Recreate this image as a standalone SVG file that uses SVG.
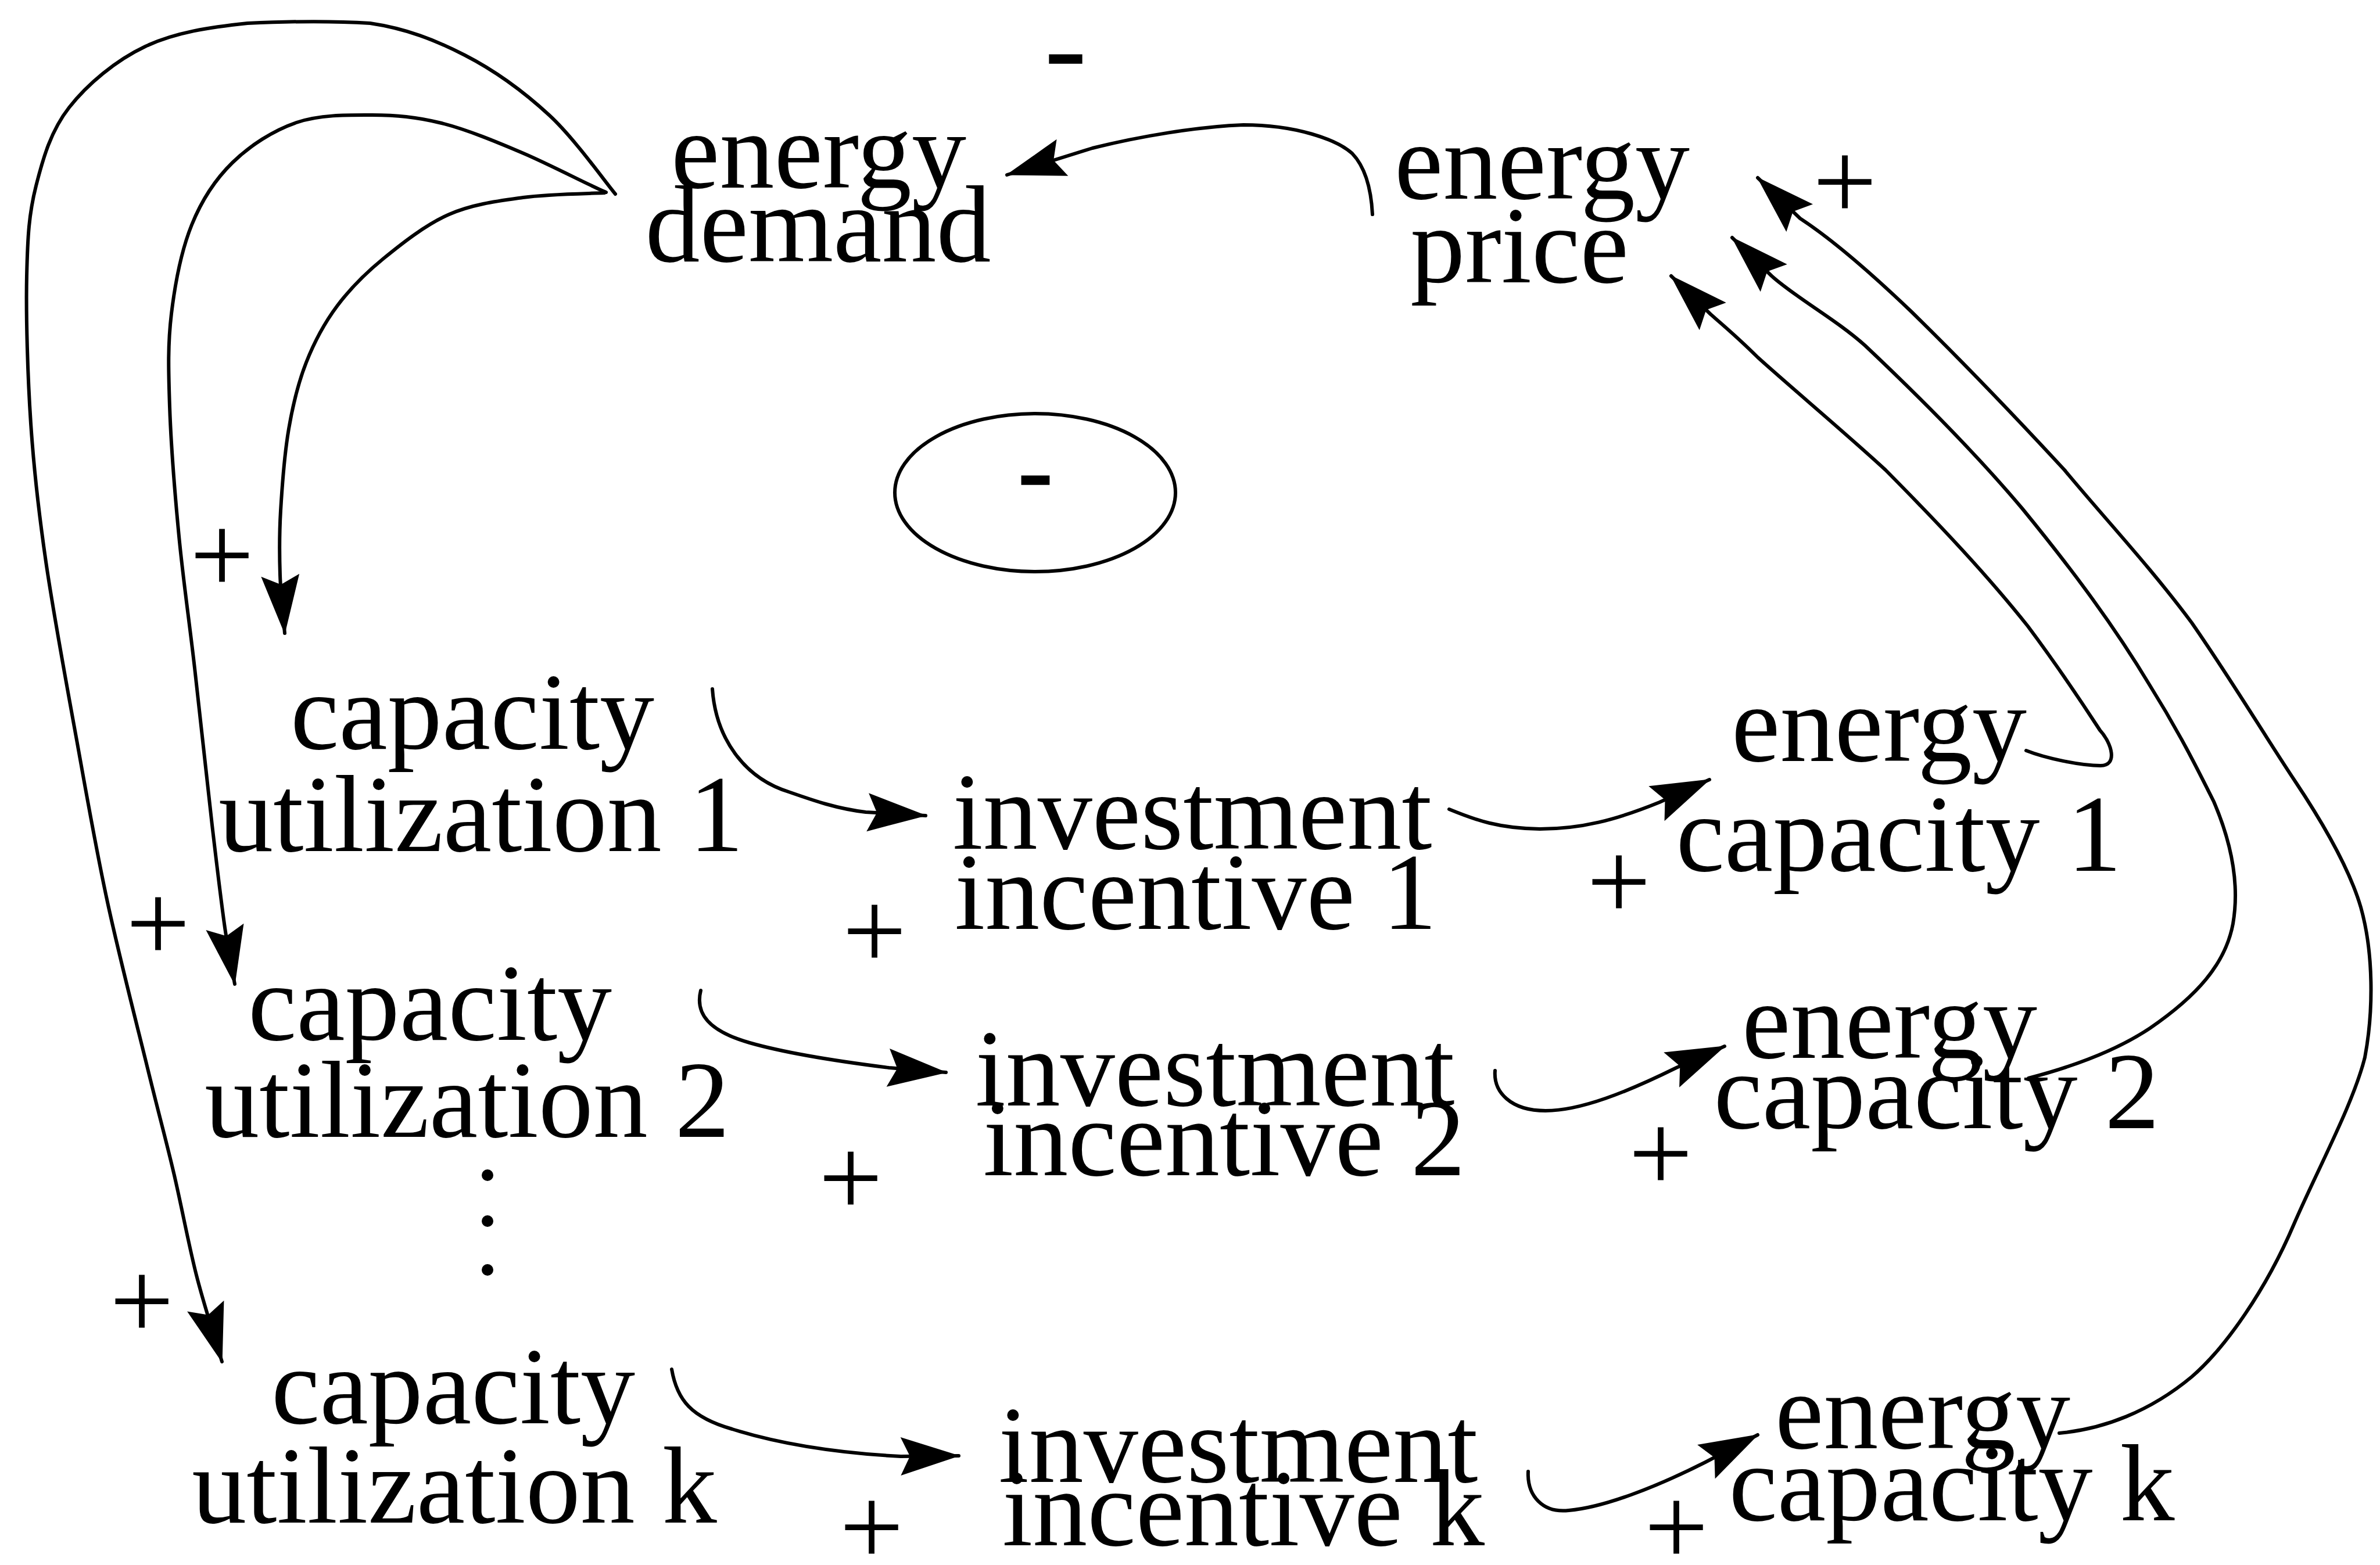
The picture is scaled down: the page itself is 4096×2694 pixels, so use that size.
<svg xmlns="http://www.w3.org/2000/svg" width="4096" height="2694" viewBox="0 0 4096 2694">
<defs>
<style>
.t{font-family:"Liberation Serif","Times New Roman",serif;font-size:188px;fill:#000;text-anchor:middle}
.s{font-family:"Liberation Serif","Times New Roman",serif;font-size:196px;fill:#000;text-anchor:middle}
.n{font-family:"Liberation Serif","Times New Roman",serif;font-size:150px;font-weight:bold;fill:#000;stroke:#000;stroke-width:3.5;text-anchor:middle}
.c{fill:none;stroke:#000;stroke-width:6;stroke-linecap:round;stroke-linejoin:round}
.a{marker-end:url(#ah)}
</style>
<marker id="ah" markerUnits="userSpaceOnUse" markerWidth="110" markerHeight="76" viewBox="-105 -38 110 76" refX="0" refY="0" orient="auto">
<path d="M2,0 L-100,-33 L-84,0 L-100,33 Z" fill="#000"/>
</marker>
</defs>
<rect width="4096" height="2694" fill="#fff"/>
<g id="connectors">
<path id="demand-to-cuk" class="c a" d="M1059,334 C1040,311.3 988.2,237.8 945,198 C901.8,158.2 851.3,121.3 800,95 C748.7,68.7 699.3,49.2 637,40 C574.7,36 490.5,37 426,40 C361.5,46.7 301.2,55.8 250,80 C198.8,104.2 150.3,145 119,185 C87.7,225 74.2,271.7 62,320 C49.8,368.3 47.5,406.8 46,475 C44.5,543.2 47.5,647 53,729 C58.5,811 65.8,876.2 79,967 C92.2,1057.8 114.3,1176.3 132,1274 C149.7,1371.7 164.5,1458.2 185,1553 C205.5,1647.8 236,1765.3 255,1843 C274,1920.7 285.2,1960.3 299,2019 C312.8,2077.7 324.2,2140.8 338,2195 C351.8,2249.2 374.7,2319.2 382,2344"/>
<path id="demand-to-cu2" class="c a" d="M1043,331 C1017.7,320.7 947.8,284 901,264 C854.2,244 803.5,223 760,212 C716.5,201 681.7,198.2 640,198 C598.3,197.8 550,197.3 510,211 C470,224.7 430,250.7 400,280 C370,309.3 347.5,343.7 330,387 C312.5,430.3 301.3,487.8 295,540 C288.7,592.2 289.8,636.2 292,700 C294.2,763.8 300.8,848 308,923 C315.2,998 325.5,1067.2 335,1150 C344.5,1232.8 356.3,1345.5 365,1420 C373.7,1494.5 380.5,1551.3 387,1597 C393.5,1642.7 401.2,1677.8 404,1694"/>
<path id="demand-to-cu1" class="c a" d="M1040,332 C1014.2,333.3 944,333.8 900,340 C856,346.2 813,351.5 773,369 C733,386.5 692.2,418.7 660,445 C627.8,471.3 602.2,497.2 580,527 C557.8,556.8 540.8,588.8 527,624 C513.2,659.2 504.3,695.5 497,738 C489.7,780.5 485.5,837 483,879 C480.5,921 480.8,954.8 482,990 C483.2,1025.2 488.7,1073.3 490,1090"/>
<path id="price-to-demand" class="c a" d="M2362,369 C2360,330 2352,290 2327,264 C2300,240 2230,215 2140,215 C2060,218 1960,235 1880,255 L1733,301"/>
<path id="cu1-to-ii1" class="c a" d="M1226,1186 C1232,1270 1280,1340 1360,1364 C1400,1378 1440,1392 1490,1398 L1593,1404"/>
<path id="cu2-to-ii2" class="c a" d="M1206,1705 C1196,1745 1220,1775 1290,1795 C1360,1815 1450,1828 1530,1838 L1628,1846"/>
<path id="cuk-to-iik" class="c a" d="M1156,2357 C1165,2410 1190,2440 1260,2460 C1330,2482 1420,2500 1550,2507 L1650,2506"/>
<path id="ii1-to-ec1" class="c a" d="M2494,1393 C2540,1412 2580,1426 2650,1427 C2720,1427 2780,1412 2856,1381 L2942,1342"/>
<path id="ii2-to-ec2" class="c a" d="M2573,1843 C2570,1880 2600,1912 2660,1912 C2720,1912 2800,1880 2885,1838 L2968,1801"/>
<path id="iik-to-eck" class="c a" d="M2630,2533 C2628,2575 2655,2605 2700,2600 C2760,2595 2850,2560 2935,2517 L3025,2470"/>
<path id="ec1-to-price" class="c a" d="M3487,1292 C3520,1305 3580,1318 3615,1318 C3645,1318 3635,1280 3614,1257 C3590,1220 3540,1145 3490,1078 C3420,990 3340,905 3245,809 C3170,740 3080,665 3025,615 C2990,580 2960,555 2944,541 L2876,475"/>
<path id="ec2-to-price" class="c a" d="M3491,1856 C3560,1838 3640,1810 3700,1770 C3780,1715 3830,1660 3843,1590 C3855,1520 3840,1450 3810,1380 C3780,1320 3750,1260 3700,1180 C3640,1080 3570,985 3480,875 C3400,780 3300,680 3210,595 C3160,550 3090,512 3049,475 L2981,409"/>
<path id="eck-to-price" class="c a" d="M3544,2467 C3620,2460 3700,2430 3772,2370 C3830,2320 3900,2220 3948,2107 C3990,2010 4050,1900 4070,1820 C4085,1740 4085,1640 4063,1562 C4045,1500 4000,1420 3950,1345 C3900,1270 3840,1170 3772,1072 C3700,975 3620,890 3553,809 C3480,730 3380,625 3289,536 C3220,470 3150,410 3098,376 L3025,306"/>
</g>
<g id="loop-marker">
<ellipse class="c" cx="1781.5" cy="848" rx="241.5" ry="136"/>
<text class="n" transform="translate(1782,862) scale(1.15,1)">-</text>
</g>
<g id="polarity">
<text class="n" transform="translate(1834,137) scale(1.35,1)">-</text>
<text class="s" x="3175" y="378">+</text>
<text class="s" x="382" y="1021">+</text>
<text class="s" x="272" y="1655">+</text>
<text class="s" x="244" y="2305">+</text>
<text class="s" x="1505" y="1668">+</text>
<text class="s" x="1464" y="2093">+</text>
<text class="s" x="1500" y="2694">+</text>
<text class="s" x="2786" y="1583">+</text>
<text class="s" x="2858" y="2051">+</text>
<text class="s" x="2885" y="2694">+</text>
</g>
<g id="energy-demand"><text class="t" x="1409" y="323">energy</text><text class="t" x="1408" y="450">demand</text></g>
<g id="energy-price"><text class="t" x="2654" y="342">energy</text><text class="t" x="2615" y="486">price</text></g>
<g id="capacity-utilization-1"><text class="t" x="813" y="1289">capacity</text><text class="t" x="828" y="1465">utilization 1</text></g>
<g id="capacity-utilization-2"><text class="t" x="740" y="1790">capacity</text><text class="t" x="804" y="1957">utilization 2</text></g>
<g id="ellipsis">
<circle cx="839" cy="2023" r="10"/><circle cx="839" cy="2102" r="10"/><circle cx="839" cy="2186" r="10"/>
</g>
<g id="capacity-utilization-k"><text class="t" x="780" y="2450">capacity</text><text class="t" x="782" y="2621">utilization k</text></g>
<g id="investment-incentive-1"><text class="t" x="2052" y="1461">investment</text><text class="t" x="2058" y="1599">incentive 1</text></g>
<g id="investment-incentive-2"><text class="t" x="2091" y="1903">investment</text><text class="t" x="2107" y="2023">incentive 2</text></g>
<g id="investment-incentive-k"><text class="t" x="2131" y="2551">investment</text><text class="t" x="2140" y="2660">incentive k</text></g>
<g id="energy-capacity-1"><text class="t" x="3234" y="1310">energy</text><text class="t" x="3268" y="1499">capacity 1</text></g>
<g id="energy-capacity-2"><text class="t" x="3252" y="1821">energy</text><text class="t" x="3333" y="1942">capacity 2</text></g>
<g id="energy-capacity-k"><text class="t" x="3309" y="2493">energy</text><text class="t" x="3359" y="2617">capacity k</text></g>
</svg>
